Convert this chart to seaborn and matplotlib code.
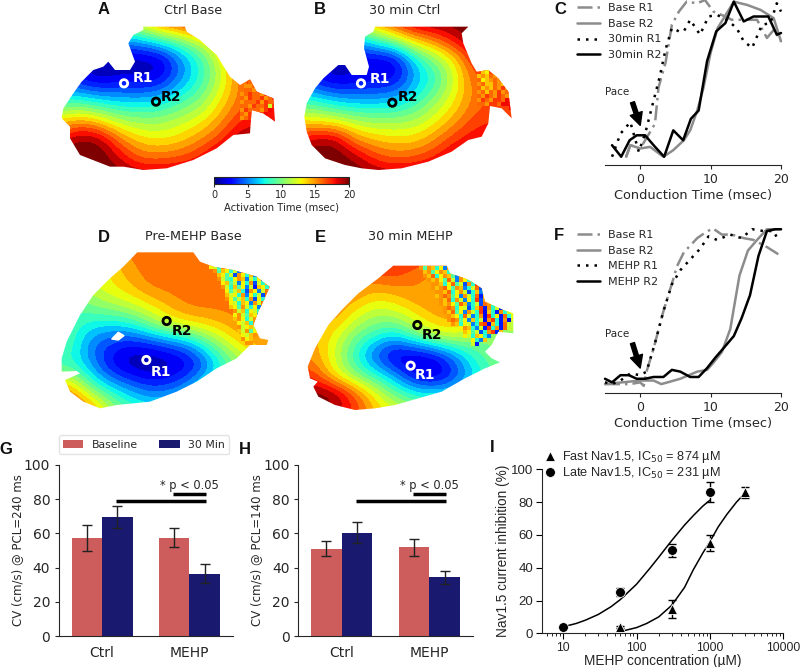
import numpy as np
import pandas as pd
import matplotlib
matplotlib.use("Agg")
import matplotlib.pyplot as plt
from matplotlib.patches import Polygon
from matplotlib.cm import ScalarMappable
from matplotlib.colors import Normalize
import seaborn as sns

sns.set_style("ticks")
plt.rcParams['font.family'] = ['DejaVu Sans']
plt.rcParams['text.color'] = '#262626'
plt.rcParams['axes.labelcolor'] = '#262626'
plt.rcParams['xtick.color'] = '#262626'
plt.rcParams['ytick.color'] = '#262626'
plt.rcParams['axes.edgecolor'] = '#262626'

# activation maps: values read on a 60 unit grid (crop units = 1/3 px)
a_vals = [
    [12, 12, 12, 12, 14, 17, 18, 20, 20, 20, 20, 20],
    [8, 6, 5, 6, 6.5, 8.5, 10, 12, 15, 18, 20, 20],
    [4, 2, 0.5, 0.5, 1, 1, 5, 8, 12, 16, 18, 18],
    [4, 2.5, 1.5, 2.5, 2, 2.5, 5.5, 8, 11.5, 15.5, 17, 18],
    [8, 8, 7, 6.5, 6.5, 7, 8.5, 10, 13, 15.5, 17, 17],
    [13, 14.5, 13, 11, 10.5, 10.5, 11.5, 12.5, 14.5, 17, 17, 17],
    [18, 20, 19.5, 15.5, 13.5, 13, 13.5, 15, 16.5, 19.5, 20, 20],
    [20, 20, 20, 18.5, 16, 16, 16.5, 17.5, 20, 20, 20, 20],
    [20, 20, 20, 20, 20, 20, 20, 20, 20, 20, 20, 20],
]
b_vals = [
    [14, 14, 14, 14, 16, 18, 20, 20, 20, 20, 20, 20],
    [8, 6, 5, 6, 8.5, 11, 14, 15.5, 18, 20, 20, 20],
    [4, 3, 1, 2, 1.5, 1.5, 7, 10, 13, 17.5, 18, 18],
    [5, 2.5, 1.5, 2, 2.5, 2.5, 6, 8, 12, 16, 16, 17],
    [8, 8, 6.5, 6, 6, 6.5, 8, 10.5, 13, 15.5, 16, 16],
    [13, 12.5, 12, 11, 10.5, 10.5, 11, 12.5, 14.5, 16.5, 17, 17],
    [18, 19, 19.5, 15, 14, 13.5, 13.5, 15, 17, 18, 18, 18],
    [20, 20, 20, 19.5, 17, 16, 16.5, 17.5, 19, 19, 19, 19],
    [20, 20, 20, 20, 20, 20, 20, 20, 20, 20, 20, 20],
]
d_vals = [
    [15, 15, 15, 15, 15.5, 15.5, 15.5, 15.5, 15.5, 15.5, 15.5, 15.5],
    [12, 12, 12, 13, 15, 15.5, 15.5, 15.5, 15.5, 15.5, 15.5, 15.5],
    [10, 10, 12, 13, 14, 15.5, 15.5, 15.5, 15.5, 15.5, 15.5, 15.5],
    [9, 9, 10, 11, 12, 13, 14.5, 15.5, 15.5, 15.5, 15.5, 15.5],
    [9, 9, 7.5, 7, 7.5, 10, 12, 13, 13.5, 14.5, 15.5, 15.5],
    [9, 9, 5, 3.5, 2.5, 3, 4, 5.5, 9, 12, 14, 15],
    [8, 8, 6, 2.5, 1, 0.5, 1, 2, 5, 9, 11, 12],
    [14, 14, 9, 6.5, 5, 3.5, 4, 6, 9, 11, 12, 14],
    [17, 17, 15, 11, 8.5, 7.5, 7.5, 8, 10, 12, 12, 12],
    [17, 17, 15, 12, 10, 9, 9, 10, 10, 12, 12, 12],
]
e_vals = [
    [18, 18, 18, 18, 18, 18, 18, 16, 16, 14, 14, 14],
    [15, 15, 15, 15.5, 16, 16.5, 15, 14.5, 14, 14, 14, 14],
    [15, 15, 15, 15, 13.5, 14, 15, 15, 14.5, 14, 14, 14],
    [15, 15, 15, 12.5, 11, 11.5, 13, 14.5, 15, 14, 13, 13],
    [15, 14.5, 12.5, 10, 8.5, 7, 10, 12, 12.5, 11, 10, 10],
    [15, 14.5, 12, 8, 4, 1.5, 1.5, 2.5, 5.5, 8.5, 10, 12],
    [17, 16.5, 12.5, 10, 8, 5.5, 2, 1, 3.5, 7, 9, 10],
    [20, 20, 20, 16.5, 13, 10, 8, 8, 8, 9, 10, 10],
    [20, 20, 18, 17, 14, 13, 12, 10, 10, 10, 10, 10],
]

# map outlines in crop units
a_outline = [(250, 20), (375, 20), (380, 35), (420, 60), (470, 105), (510, 170), (540, 195), (570, 178),
             (590, 215), (640, 235), (645, 305), (610, 280), (575, 270), (570, 340), (520, 345), (470, 385),
             (400, 420), (320, 445), (250, 450), (190, 440), (150, 440), (60, 405), (30, 355), (30, 320),
             (5, 295), (10, 265), (40, 220), (65, 185), (100, 150), (130, 140), (145, 125), (165, 150),
             (210, 150), (225, 125), (205, 70), (220, 45), (250, 30)]
b_outline = [(240, 20), (520, 20), (500, 40), (505, 70), (530, 130), (545, 155), (580, 150), (610, 175),
             (640, 215), (650, 295), (620, 265), (585, 258), (580, 310), (560, 350), (520, 360), (470, 395),
             (400, 425), (320, 445), (250, 450), (200, 445), (150, 435), (90, 415), (50, 375), (35, 335),
             (28, 290), (35, 250), (60, 205), (85, 175), (130, 135), (150, 135), (170, 165), (215, 165),
             (222, 140), (207, 85), (210, 50), (235, 35)]
d_outline = [(262, 22), (430, 22), (450, 50), (490, 65), (550, 75), (620, 95), (645, 115), (660, 125),
             (640, 170), (625, 200), (610, 240), (630, 280), (655, 285), (650, 300), (600, 300), (560, 340),
             (500, 370), (440, 410), (380, 440), (300, 470), (200, 480), (150, 490), (100, 470), (60, 440),
             (45, 405), (90, 385), (80, 378), (35, 380), (35, 340), (50, 290), (90, 210), (130, 150),
             (180, 100), (220, 65)]
e_outline = [(295, 32), (455, 32), (465, 55), (510, 70), (530, 80), (560, 100), (570, 140), (625, 165),
             (655, 175), (655, 235), (610, 230), (590, 270), (570, 290), (590, 310), (615, 322), (570, 340),
             (510, 370), (440, 410), (370, 430), (300, 450), (240, 460), (180, 465), (120, 450), (70, 425),
             (55, 395), (68, 380), (45, 370), (38, 335), (60, 280), (100, 210), (140, 165), (190, 115),
             (250, 70)]

# noisy patches, one char per cell, value = int(char, 21), "." = nothing
a_noise = ["..gf.....", ".ffgfh...", ".ggfhgf..", "fghggfhfg", "gfhgghfgh", "fggghfhgg",
           "ggfhgghch", "fhgggfhi.", "gfhgfhi..", "fghgh...."]
b_noise = [".ed......", "efegf....", "gdefgf...", "fgeegfe..", "gefegfhfg", "fgegfhfgh",
           "gfhgfhgfh", "fhgfhhgih", "ggfhhgiii", "........i"]
d_noise = ["...dc8fd..........", "....f9ed8c5f8d....", ".....ed9c4fd8e5c8.", ".....fc98dfe5c8d3d",
           "......de9c5d8f4c8e", "......fc8e9d5c3ed8", ".......d9ce84fd5c.", ".......ecd8f5d8c4.",
           ".......fd9ce8f4d8.", "........dc8ed5fc..", "........ed9fc8d5f.", ".........fce8dc8e.",
           ".........dfc9ed5..", ".........efd8cf8..", "..........dce8fd..", "..........fcdec...",
           "..........ecf9d...", "...........dcef...", "...........fde....", "............ff...."]
e_noise = [".f9fe8d5f9d..............", "..ef9dfe8c4dg............", "..feg8dfe95fc8...........",
           "...fefd9gc5fd8e..........", "....ffe8dg9c4f8h5........", "....fefgd9fe58cg4........",
           ".....ffeg8dfc48e5f.......", ".....efgf9d5fc8g3e8......", "......feg8fc5d8h4fd8e....",
           "......fefd9ge58c4gf8d58..", ".......fgf8dc48eh3f8c3dg.", ".......feg9d5fc8h2e83f8c.",
           "........fed8gc58f2h8d3g8.", "........fgf9d5e8c2fh83f2.", ".........fe8dc58gh2e83gc.",
           "...........dfe85c3h8f3g..", "............ed9c48fh3e...", "............dc8ed85......",
           "..............d85e.......", "..............c3........."]

ring_a = {"R1": (192, 190), "R2": (288, 245)}
ring_b = {"R1": (198, 190), "R2": (292, 248)}
ring_d = {"R1": (289, 345), "R2": (350, 228)}
ring_e = {"R1": (347, 332), "R2": (367, 210)}

# conduction traces: time in msec, signal in percent of panel height
c_base_r1_t = [-2, -1.4, 0, 1.4, 2.1, 2.6, 3.6, 4.5, 5.5, 6.6, 8.1, 9.2, 10.4, 12.1, 13, 14.7, 16.6, 18, 19, 20]
c_base_r1 = [5, 12, 10, 20, 25, 47, 62, 85, 93, 99, 98, 100, 93, 90, 88, 88, 88, 77, 82, 75]
c_base_r2_t = [-2, -1.4, 0, 1.4, 3.3, 4.7, 6.2, 7.1, 8.1, 9, 10, 11, 13.3, 15.2, 17.1, 18.96, 20]
c_base_r2 = [5, 12, 10, 11, 5, 9, 15, 21, 33, 47, 68, 83, 99, 97, 94, 89, 75]
c_30_r1_t = [-4, -2.8, -1.4, -0.2, 0.7, 1.9, 2.8, 3.6, 4.5, 5.5, 6.2, 7.1, 8.5, 9.7, 10.9, 12.3, 13.7, 14.7, 15.9, 17.3, 18.5, 19.4, 20]
c_30_r1 = [5, 19, 26, 8, 19, 39, 54, 70, 83, 81, 81, 88, 79, 90, 91, 88, 83, 75, 71, 85, 86, 98, 93]
c_30_r2_t = [-4, -2.7, -1.5, -0.5, 0.7, 1.9, 3.4, 4.7, 6.1, 7.2, 8.3, 9.5, 10.8, 12.1, 13.3, 14.7, 16.1, 18.2, 19.4, 20]
c_30_r2 = [12, 5, 15, 18, 18, 12, 5, 21, 15, 28, 33, 63, 81, 86, 99, 87, 90, 90, 79, 80]

f_base_r1_t = [-5, -3.3, -1.4, 0, 0.5, 0.9, 1.9, 3.3, 4.7, 5.2, 6.2, 8.1, 9.2, 10.3, 11.6, 13, 14.7, 16.1, 18, 20]
f_base_r1 = [5, 5, 5, 6, 4, 12, 25, 46, 64, 71, 79, 87, 90, 92.5, 89, 89, 87, 86, 82, 77]
f_base_r2_t = [-5, 0, 1.9, 3, 5.7, 8.1, 9.5, 10.4, 11.6, 12.8, 14.1, 15.3, 16.6, 18, 20]
f_base_r2 = [5, 7, 7, 5, 8, 12, 13, 17, 23, 36, 66, 80, 86, 92, 92]
f_mehp_r1_t = [-5, -4, -2.8, -1.4, 0, 0.9, 2.1, 3.3, 4.5, 5.7, 7.1, 8.5, 9.7, 10.9, 12.8, 14.4, 15.9, 17.5, 18.96, 19.7]
f_mehp_r1 = [6, 5, 7, 11, 10, 12, 28, 46, 61, 69, 75, 81, 88, 86, 89, 87, 92, 91, 91, 85]
f_mehp_r2_t = [-5, -4, -2.8, -1.6, -0.5, 0.7, 1.9, 3.3, 4.5, 5.7, 7.1, 8.3, 9.5, 10.7, 11.8, 13.3, 14.4, 15.6, 16.8, 18, 19.2, 20]
f_mehp_r2 = [8, 6, 10, 10, 8, 8, 9, 9, 13, 12, 9, 9, 14, 20, 25, 32, 42, 55, 77, 91, 92, 92]

# bars
groups = ['Ctrl', 'MEHP']
g_base = [57.5, 57.5]
g_30 = [69.5, 36.5]
g_base_err = [7.5, 5.5]
g_30_err = [6.5, 5.5]
h_base = [51, 52]
h_30 = [60.5, 34.5]
h_base_err = [4.3, 5]
h_30_err = [6.2, 3.8]

# dose response
late_x = [10, 60, 300, 1000]
late_y = [4, 25, 50.5, 86]
late_err = [0.5, 2.5, 4, 6]
fast_x = [60, 300, 1000, 3000]
fast_y = [4, 15, 55, 86]
fast_err = [0.5, 5.5, 5, 3.5]
late_fit_x = [10, 15, 20, 30, 45, 60, 100, 150, 200, 300, 450, 600, 800, 1000]
late_fit_y = [4, 6, 8, 11.5, 16.3, 20.6, 30, 39.4, 46.4, 56.5, 66, 72, 77.6, 81.2]
fast_fit_x = [66, 100, 137, 200, 300, 450, 590, 800, 1000, 1300, 1700, 2300, 3000]
fast_fit_y = [1.5, 3.5, 6, 10, 17, 28, 38.6, 49, 56, 65, 72.5, 80, 85.5]

W, H = 800, 667
fig = plt.figure(figsize=(8, 6.67), dpi=100)


def px_axes(x0, y0, x1, y1):
    return fig.add_axes([x0 / W, 1 - y1 / H, (x1 - x0) / W, (y1 - y0) / H])


def px_text(x, y, s, **kw):
    kw.setdefault('ha', 'center')
    kw.setdefault('va', 'center')
    fig.text(x / W, 1 - y / H, s, **kw)


def draw_map(x0, y0, vals, outline, noise, noise_xy, rings, label_xy):
    ax = px_axes(x0, y0, x0 + 220, y0 + 165)
    ax.axis('off')
    vals = np.array(vals, dtype=float)
    m, n = vals.shape
    clip = Polygon(outline, closed=True, transform=ax.transData)
    # 20 colour steps give the isochrone bands
    im0 = ax.imshow(vals, cmap=plt.get_cmap('jet', 20), vmin=0, vmax=20, interpolation='bicubic',
                    interpolation_stage='data', aspect='auto', extent=(-30, 60 * n - 30, 60 * m - 30, -30))
    im0.set_clip_path(clip)
    # speckled part of the map
    cols = max(len(r) for r in noise)
    grid = np.full((len(noise), cols), np.nan)
    for i, row in enumerate(noise):
        for j, ch in enumerate(row):
            if ch != '.':
                grid[i, j] = int(ch, 21)
    nx, ny = noise_xy
    im = ax.imshow(np.ma.masked_invalid(grid), cmap='jet', vmin=0, vmax=20, interpolation='nearest', aspect='auto',
                   extent=(nx, nx + 12 * cols, ny + 12 * len(noise), ny), zorder=2)
    im.set_clip_path(clip)
    ax.set_xlim(0, 660)
    ax.set_ylim(495, 0)
    for name, col in (("R1", 'white'), ("R2", 'black')):
        rx, ry = rings[name]
        sns.scatterplot(x=[rx], y=[ry], s=28, facecolor='none', edgecolor=col, linewidth=2, ax=ax, zorder=3)
        tx, ty = label_xy[name]
        ax.text(tx, ty, name, color=col, fontsize=10, fontweight='bold', ha='center', va='center', zorder=4)
    return ax


ax_a = draw_map(60, 20, a_vals, a_outline, a_noise, (540, 180), ring_a, {"R1": (250, 175), "R2": (334, 232)})
ax_b = draw_map(295, 20, b_vals, b_outline, b_noise, (545, 150), ring_b, {"R1": (256, 176), "R2": (340, 232)})
ax_d = draw_map(50, 245, d_vals, d_outline, d_noise, (440, 60), ring_d, {"R1": (333, 380), "R2": (396, 258)})
ax_d.fill([185, 205, 222, 205], [282, 262, 272, 285], color='white', zorder=2)
ax_e = draw_map(295, 255, e_vals, e_outline, e_noise, (360, 32), ring_e, {"R1": (391, 360), "R2": (410, 240)})

# colorbar
cax = px_axes(214, 177, 349, 184)
cb = fig.colorbar(ScalarMappable(Normalize(0, 20), 'jet'), cax=cax, orientation='horizontal')
cb.set_ticks([0, 5, 10, 15, 20])
cb.ax.tick_params(labelsize=7, length=2, pad=2)
cb.set_label('Activation Time (msec)', fontsize=7.2, labelpad=2)

# titles and panel letters
for x, y, s in [(193, 10, 'Ctrl Base'), (405, 10, '30 min Ctrl'), (193, 237, 'Pre-MEHP Base'), (410, 237, '30 min MEHP')]:
    px_text(x, y, s, fontsize=9.2)
for x, y, s in [(104, 10, 'A'), (320, 10, 'B'), (560, 10, 'C'), (104, 237, 'D'), (320, 237, 'E'), (559, 236, 'F'),
                (6, 449, 'G'), (245, 449, 'H'), (492, 448, 'I')]:
    px_text(x, y, s, fontsize=12, fontweight='bold', family='Liberation Sans', color='#111111')


def draw_traces(box, series, names, legend_y):
    ax = px_axes(*box)
    styles = [('#8c8c8c', (0, (6, 2, 1, 2))), ('#8c8c8c', '-'), ('black', (0, (1, 2.4))), ('black', '-')]
    for (t, v), name, (col, ls) in zip(series, names, styles):
        df = pd.DataFrame({'t': t, 'v': v})
        sns.lineplot(data=df, x='t', y='v', color=col, linestyle=ls, linewidth=1.8, ax=ax, label=name,
                     errorbar=None, estimator=None, clip_on=False)
    ax.set_xlim(-5, 20)
    ax.set_ylim(0, 100)
    ax.set_xticks([0, 10, 20])
    ax.set_yticks([])
    ax.set_ylabel('')
    ax.set_xlabel('Conduction Time (msec)', fontsize=9.3, labelpad=2)
    ax.tick_params(axis='x', labelsize=9, length=3, pad=3)
    sns.despine(ax=ax, left=True)
    ax.patch.set_alpha(0)
    ax.legend(loc='upper left', bbox_to_anchor=(-0.159, legend_y), frameon=False, fontsize=8, labelspacing=0.5,
              handlelength=2.1, handletextpad=0.7, borderpad=0, borderaxespad=0)
    return ax


ax_c = draw_traces((605, 0, 781, 165),
                   [(c_base_r1_t, c_base_r1), (c_base_r2_t, c_base_r2), (c_30_r1_t, c_30_r1), (c_30_r2_t, c_30_r2)],
                   ['Base R1', 'Base R2', '30min R1', '30min R2'], 0.98)
ax_c.annotate('', xy=(0, 24), xytext=(-1.1, 38),
              arrowprops=dict(facecolor='black', edgecolor='black', width=3, headwidth=9, headlength=9))
ax_c.text(-5, 44, 'Pace', fontsize=7.5, ha='left', va='center')

ax_f = draw_traces((605, 215, 781, 393),
                   [(f_base_r1_t, f_base_r1), (f_base_r2_t, f_base_r2), (f_mehp_r1_t, f_mehp_r1), (f_mehp_r2_t, f_mehp_r2)],
                   ['Base R1', 'Base R2', 'MEHP R1', 'MEHP R2'], 0.916)
ax_f.annotate('', xy=(0, 14), xytext=(-1.1, 28),
              arrowprops=dict(facecolor='black', edgecolor='black', width=3, headwidth=9, headlength=9))
ax_f.text(-5, 33, 'Pace', fontsize=7.5, ha='left', va='center')


def draw_bars(box, base, after, base_err, after_err, ylabel):
    ax = px_axes(*box)
    df = pd.DataFrame({'group': groups * 2,
                       'cond': ['Baseline'] * 2 + ['30 Min'] * 2,
                       'cv': list(base) + list(after)})
    sns.barplot(data=df, x='group', y='cv', hue='cond', palette=['indianred', 'midnightblue'],
                width=0.7, errorbar=None, gap=0, saturation=1, linewidth=0, ax=ax)
    for bars, errs in zip(ax.containers, (base_err, after_err)):
        for bar, e in zip(bars, errs):
            xc = bar.get_x() + bar.get_width() / 2
            ax.errorbar(xc, bar.get_height(), yerr=e, color='#222222', capsize=3.3, elinewidth=1, capthick=1)
    ax.plot([0.163, 1.19], [79, 79], color='black', lw=2.5, solid_capstyle='butt')
    ax.plot([0.817, 1.19], [83, 83], color='black', lw=2.5, solid_capstyle='butt')
    ax.text(1.0, 88, '* p < 0.05', fontsize=8.3, ha='center', va='center')
    ax.set_xlim(-0.5, 1.5)
    ax.set_ylim(0, 100)
    ax.set_yticks(range(0, 101, 20))
    ax.set_xlabel('')
    ax.set_ylabel(ylabel, fontsize=8.5, labelpad=0)
    ax.tick_params(axis='both', labelsize=10, length=3, pad=3)
    ax.tick_params(axis='x', length=0, pad=7)
    sns.despine(ax=ax)
    return ax


ax_g = draw_bars((58.5, 465, 233, 636), g_base, g_30, g_base_err, g_30_err, 'CV (cm/s) @ PCL=240 ms')
ax_g.legend(loc='lower left', bbox_to_anchor=(0.0, 1.064), ncol=2, fontsize=7.8, frameon=True, borderaxespad=0,
            columnspacing=2, handlelength=1.9, handletextpad=0.75, borderpad=0.4, edgecolor='#dddddd')
ax_h = draw_bars((298, 465, 473, 636), h_base, h_30, h_base_err, h_30_err, 'CV (cm/s) @ PCL=140 ms')
ax_h.legend_.remove()

# dose response panel, helvetica look
ax_i = px_axes(541.7, 469.3, 783.3, 633.3)
sans = 'Liberation Sans'
sns.lineplot(x=late_fit_x, y=late_fit_y, color='black', linewidth=1.1, ax=ax_i, errorbar=None, estimator=None)
sns.lineplot(x=fast_fit_x, y=fast_fit_y, color='black', linewidth=1.1, ax=ax_i, errorbar=None, estimator=None)
ax_i.errorbar(fast_x, fast_y, yerr=fast_err, fmt='none', ecolor='black', capsize=3, elinewidth=1, capthick=1, clip_on=False)
ax_i.errorbar(late_x, late_y, yerr=late_err, fmt='none', ecolor='black', capsize=3, elinewidth=1, capthick=1, clip_on=False)
sns.scatterplot(x=fast_x, y=fast_y, marker='^', s=50, color='black', ax=ax_i, zorder=3, clip_on=False,
                label='Fast Nav1.5, IC$_{50}$ = 874 µM')
sns.scatterplot(x=late_x, y=late_y, marker='o', s=50, color='black', ax=ax_i, zorder=3, clip_on=False,
                label='Late Nav1.5, IC$_{50}$ = 231 µM')
ax_i.set_xscale('log')
ax_i.set_xlim(5.07, 10000)
ax_i.set_ylim(0, 100)
ax_i.set_yticks(range(0, 101, 20))
ax_i.set_xticks([10, 100, 1000, 10000])
ax_i.set_xticklabels(['10', '100', '1000', '10000'], family=sans, fontsize=8.8)
ax_i.set_yticklabels([str(v) for v in range(0, 101, 20)], family=sans, fontsize=9.5)
ax_i.tick_params(axis='both', length=4, pad=2, color='black')
ax_i.tick_params(axis='x', which='minor', length=2, color='black')
ax_i.set_xlabel('MEHP concentration (µM)', family=sans, fontsize=9.8, labelpad=0)
ax_i.set_ylabel('Nav1.5 current inhibition (%)', family=sans, fontsize=9.8, labelpad=0.5)
sns.despine(ax=ax_i)
ax_i.legend(loc='lower left', bbox_to_anchor=(-0.02, 0.93), frameon=False, prop={'family': sans, 'size': 9.2},
            labelspacing=0, handletextpad=0, borderpad=0, borderaxespad=0)

fig.savefig('out.png', dpi=100)
